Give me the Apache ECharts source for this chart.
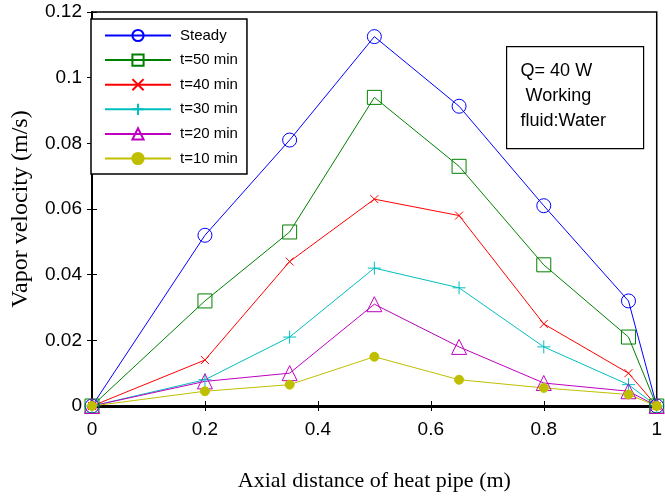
<!DOCTYPE html>
<html><head><meta charset="utf-8">
<script src="https://cdn.jsdelivr.net/npm/echarts@6/dist/echarts.min.js"></script>
<style>html,body{margin:0;padding:0;background:#fff}#c{width:665px;height:497px}</style>
</head><body><div id="c"></div>
<script>
const xPos = [0, 0.2, 0.35, 0.5, 0.65, 0.8, 0.95, 1];
const steady = [0, 0.052, 0.081, 0.1125, 0.0913, 0.061, 0.032, 0];
const t50 = [0, 0.032, 0.053, 0.094, 0.073, 0.043, 0.021, 0];
const t40 = [0, 0.014, 0.044, 0.063, 0.058, 0.025, 0.010, 0];
const t30 = [0, 0.008, 0.021, 0.042, 0.036, 0.018, 0.0065, 0];
const t20 = [0, 0.0075, 0.010, 0.031, 0.018, 0.007, 0.0045, 0];
const t10 = [0, 0.0045, 0.0065, 0.015, 0.008, 0.0055, 0.0035, 0];
const seriesNames = ['Steady', 't=50 min', 't=40 min', 't=30 min', 't=20 min', 't=10 min'];
const xTicks = [0, 0.2, 0.4, 0.6, 0.8, 1];
const yTicks = [0, 0.02, 0.04, 0.06, 0.08, 0.1, 0.12];

const pairs = v => xPos.map((x, i) => [x, v[i]]);
const styles = [
  {c: '#0000ff', sym: 'circle', size: 14, fill: 'transparent'},
  {c: '#008000', sym: 'rect', size: 14, fill: 'transparent'},
  {c: '#ff0000', sym: 'path://M0,0L10,10M10,0L0,10', size: 8, fill: 'transparent'},
  {c: '#00bfbf', sym: 'path://M5,0L5,10M0,5L10,5', size: 13, fill: 'transparent'},
  {c: '#bf00bf', sym: 'triangle', size: 15, fill: 'transparent'},
  {c: '#bfbf00', sym: 'circle', size: 9, fill: '#bfbf00'}
];
const data = [steady, t50, t40, t30, t20, t10];

const chart = echarts.init(document.getElementById('c'));
const axisFont = {fontFamily: 'Liberation Sans, Arial', fontSize: 19, color: '#000'};
chart.setOption({
  animation: false,
  grid: {left: 92, right: 3, top: 12, bottom: 87, show: true, borderColor: '#000', borderWidth: 1.5},
  xAxis: [{
    type: 'value', min: 0, max: 1, interval: 0.2,
    axisLine: {show: true, onZero: false, lineStyle: {color: '#000', width: 3}},
    axisTick: {show: true, inside: true, length: 5, lineStyle: {color: '#000'}},
    splitLine: {show: false},
    axisLabel: Object.assign({margin: 14, formatter: v => String(+v.toFixed(2))}, axisFont),
    name: 'Axial distance of heat pipe (m)', nameLocation: 'middle', nameGap: 64,
    nameTextStyle: {fontFamily: 'Liberation Serif, Times New Roman', fontSize: 22, color: '#000'}
  }, {
    type: 'value', min: 0, max: 1, interval: 0.2, position: 'top',
    axisLine: {show: true, lineStyle: {color: '#000', width: 1.5}},
    axisTick: {show: true, inside: true, length: 5, lineStyle: {color: '#000'}},
    axisLabel: {show: false}, splitLine: {show: false}
  }],
  yAxis: [{
    type: 'value', min: 0, max: 0.12, interval: 0.02,
    axisLine: {show: true, onZero: false, lineStyle: {color: '#000', width: 2}},
    axisTick: {show: true, inside: true, length: 5, lineStyle: {color: '#000'}},
    splitLine: {show: false},
    axisLabel: Object.assign({margin: 10, formatter: v => String(+v.toFixed(2))}, axisFont),
    name: 'Vapor velocity (m/s)', nameLocation: 'middle', nameGap: 59,
    nameTextStyle: {fontFamily: 'Liberation Serif, Times New Roman', fontSize: 24, color: '#000'}
  }, {
    type: 'value', min: 0, max: 0.12, interval: 0.02, position: 'right',
    axisLine: {show: true, lineStyle: {color: '#000', width: 1.5}},
    axisTick: {show: true, inside: true, length: 5, lineStyle: {color: '#000'}},
    axisLabel: {show: false}, splitLine: {show: false}
  }],
  legend: {
    orient: 'vertical', left: 91, top: 19,
    backgroundColor: '#fff', borderColor: '#000', borderWidth: 1.5,
    padding: [9, 9, 8, 13], itemWidth: 66, itemHeight: 14, itemGap: 9.6,
    textStyle: {fontFamily: 'Liberation Sans, Arial', fontSize: 15, color: '#000', padding: [0, 0, 0, 4]},
    data: seriesNames
  },
  graphic: [{
    type: 'group', left: 506, top: 46,
    children: [
      {type: 'rect', shape: {x: 0, y: 0, width: 137, height: 102}, style: {fill: '#fff', stroke: '#000', lineWidth: 1.2}},
      {type: 'text', x: 14, y: 12, style: {text: 'Q= 40 W\n Working\nfluid:Water', font: '18px Liberation Sans, Arial', fill: '#000', lineHeight: 25}}
    ]
  }],
  series: data.map((d, i) => ({
    name: seriesNames[i], type: 'line', data: pairs(d),
    symbol: styles[i].sym, symbolSize: styles[i].size,
    showAllSymbol: true,
    lineStyle: {color: styles[i].c, width: 1},
    itemStyle: {color: styles[i].fill, borderColor: styles[i].c, borderWidth: 1},
    emphasis: {disabled: true}
  }))
});
</script></body></html>
